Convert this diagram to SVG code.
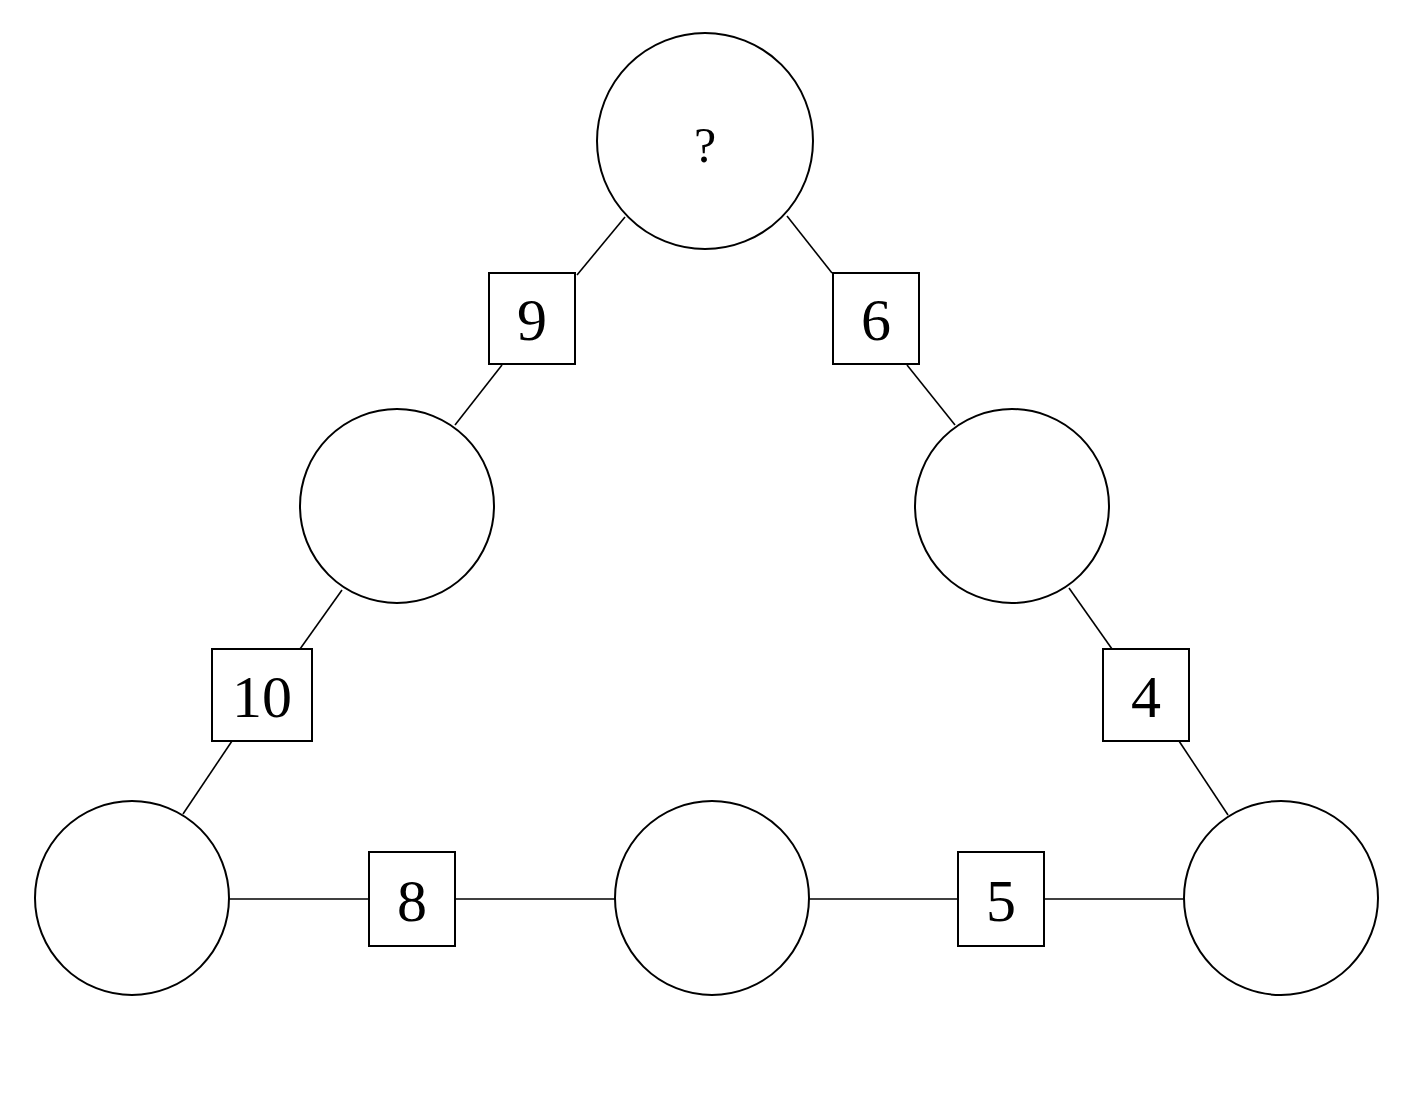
<svg xmlns="http://www.w3.org/2000/svg" width="1411" height="1115" viewBox="0 0 1411 1115">
<style>
.n{fill:#fff;stroke:#000;stroke-width:2}
.c line{stroke:#000;stroke-width:1.6}
text{font-family:"Liberation Serif","DejaVu Serif",serif;text-anchor:middle;fill:#000}
.d{font-size:60px}
</style>
<rect width="1411" height="1115" fill="#fff"/>
<g class="c">
<line x1="625" y1="217" x2="577" y2="275"/>
<line x1="502" y1="365" x2="455" y2="425"/>
<line x1="342" y1="590" x2="300" y2="649"/>
<line x1="232" y1="741" x2="183" y2="814"/>
<line x1="787" y1="216" x2="832" y2="273"/>
<line x1="907" y1="365" x2="955" y2="425"/>
<line x1="1069" y1="588" x2="1112" y2="649"/>
<line x1="1179" y1="741" x2="1228" y2="815"/>
<line x1="229" y1="899" x2="369" y2="899"/>
<line x1="455" y1="899" x2="616" y2="899"/>
<line x1="808" y1="899" x2="958" y2="899"/>
<line x1="1044" y1="899" x2="1185" y2="899"/>
</g>
<g id="top"><circle class="n" cx="705" cy="141" r="108"/><text x="705" y="162" font-size="50">?</text></g>
<g id="ml"><circle class="n" cx="397" cy="506" r="97"/></g>
<g id="mr"><circle class="n" cx="1012" cy="506" r="97"/></g>
<g id="bl"><circle class="n" cx="132" cy="898" r="97"/></g>
<g id="bm"><circle class="n" cx="712" cy="898" r="97"/></g>
<g id="br"><circle class="n" cx="1281" cy="898" r="97"/></g>
<g id="b9"><rect class="n" x="489" y="273" width="86" height="91"/><text class="d" x="532" y="340">9</text></g>
<g id="b6"><rect class="n" x="833" y="273" width="86" height="91"/><text class="d" x="876" y="340">6</text></g>
<g id="b10"><rect class="n" x="212" y="649" width="100" height="92"/><text class="d" x="262" y="717">10</text></g>
<g id="b4"><rect class="n" x="1103" y="649" width="86" height="92"/><text class="d" x="1146" y="717">4</text></g>
<g id="b8"><rect class="n" x="369" y="852" width="86" height="94"/><text class="d" x="412" y="921">8</text></g>
<g id="b5"><rect class="n" x="958" y="852" width="86" height="94"/><text class="d" x="1001" y="921">5</text></g>
</svg>
